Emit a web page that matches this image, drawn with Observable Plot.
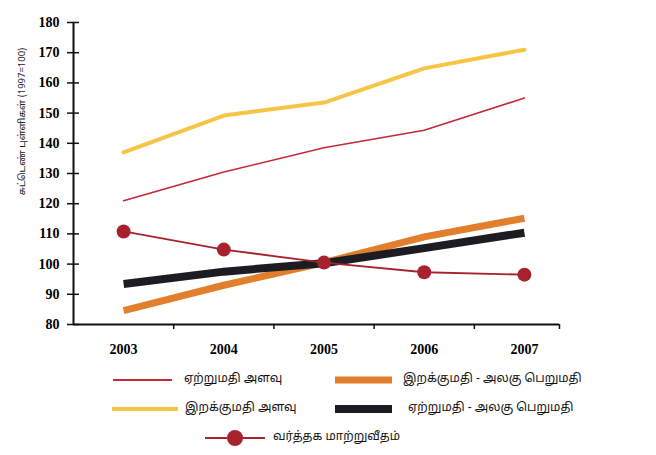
<!DOCTYPE html>
<html><head><meta charset="utf-8">
<script src="https://cdn.jsdelivr.net/npm/d3@7"></script>
<script src="https://cdn.jsdelivr.net/npm/@observablehq/plot@0.6"></script>
<style>
body{margin:0;background:#fff;}
#wrap{position:relative;width:656px;height:455px;overflow:hidden;font-family:"Noto Sans Tamil","Noto Sans","DejaVu Sans",sans-serif;}
.lg{position:absolute;font-size:12px;color:#111;white-space:nowrap;line-height:14px;}
.sw{position:absolute;}
</style></head>
<body><div id="wrap"><div id="chart"></div></div>
<script>
const years = [2003, 2004, 2005, 2006, 2007];
const exportVolume = [121, 130.5, 138.5, 144.3, 155];
const importVolume = [137, 149.2, 153.5, 164.8, 171];
const importUnitValue = [84.6, 93, 100.5, 109, 115.2];
const exportUnitValue = [93.4, 97.5, 100.3, 105.3, 110.4];
const termsOfTrade = [110.8, 104.8, 100.5, 97.3, 96.5];
const yTicks = [80, 90, 100, 110, 120, 130, 140, 150, 160, 170, 180];
const yLabel = "சுட்டெண் புள்ளிகள் (1997=100)";
const seriesNames = ["ஏற்றுமதி அளவு", "இறக்குமதி அளவு", "இறக்குமதி - அலகு பெறுமதி", "ஏற்றுமதி - அலகு பெறுமதி", "வர்த்தக மாற்றுவீதம்"];
const colors = ["#c4293a", "#f6c545", "#e27f2c", "#1c1c22", "#a8222e"];

const rows = (vals) => years.map((y, i) => ({year: y, v: vals[i]}));
const bounds = [2003.5, 2004.5, 2005.5, 2006.5, 2007.35];

const chart = Plot.plot({
  width: 656, height: 365,
  marginLeft: 73, marginRight: 97, marginTop: 22, marginBottom: 41,
  x: {type: "linear", domain: [2002.5, 2007.35]},
  y: {domain: [80, 180]},
  style: {fontFamily: "'Liberation Serif', 'Times New Roman', serif"},
  marks: [
    Plot.axisY({ticks: yTicks, tickSize: 6, tickPadding: 8, tickFormat: d => d, label: null,
      fontSize: 14, fontWeight: "bold", stroke: "#111", strokeWidth: 1.5}),
    Plot.axisY({ticks: yTicks, tickSize: -6, text: null, label: null, stroke: "#111", strokeWidth: 1.5}),
    Plot.axisX({ticks: bounds, tickSize: 5, text: null, label: null, stroke: "#111", strokeWidth: 1.5}),
    Plot.axisX({ticks: years, tickSize: 0, tickPadding: 20, tickFormat: d => String(d), label: null,
      fontSize: 14, fontWeight: "bold"}),
    Plot.ruleX([2002.5], {stroke: "#111", strokeWidth: 2}),
    Plot.ruleY([80], {stroke: "#111", strokeWidth: 2}),
    Plot.text([yLabel], {frameAnchor: "left", textAnchor: "middle", dx: -52, dy: -52, rotate: -90, text: d => d,
      fontSize: 9.5, fontFamily: "'Noto Sans Tamil','Noto Sans',sans-serif", fill: "#222"}),
    Plot.line(rows(importVolume), {x: "year", y: "v", stroke: colors[1], strokeWidth: 4}),
    Plot.line(rows(exportVolume), {x: "year", y: "v", stroke: colors[0], strokeWidth: 1.6}),
    Plot.line(rows(importUnitValue), {x: "year", y: "v", stroke: colors[2], strokeWidth: 7, strokeLinecap: "butt"}),
    Plot.line(rows(exportUnitValue), {x: "year", y: "v", stroke: colors[3], strokeWidth: 8, strokeLinecap: "butt"}),
    Plot.line(rows(termsOfTrade), {x: "year", y: "v", stroke: colors[4], strokeWidth: 1.8}),
    Plot.dot(rows(termsOfTrade), {x: "year", y: "v", r: 7, fill: colors[4], stroke: "none"})
  ]
});
document.getElementById("chart").appendChild(chart);

const wrap = document.getElementById("wrap");
const legend = [
  {name: 0, x1: 113, x2: 172, y: 380, w: 2, tx: 184, dot: false},
  {name: 2, x1: 335, x2: 392, y: 380, w: 7, tx: 403, dot: false},
  {name: 1, x1: 112, x2: 178, y: 409, w: 4, tx: 185, dot: false},
  {name: 3, x1: 335, x2: 392, y: 409, w: 8, tx: 408, dot: false},
  {name: 4, x1: 205, x2: 265, y: 438, w: 2, tx: 273, dot: true}
];
legend.forEach(e => {
  const s = document.createElementNS("http://www.w3.org/2000/svg", "svg");
  s.setAttribute("class", "sw");
  s.setAttribute("width", e.x2 - e.x1 + 2);
  s.setAttribute("height", 20);
  s.style.left = (e.x1 - 1) + "px";
  s.style.top = (e.y - 10) + "px";
  const c = colors[e.name];
  let html = `<line x1="1" x2="${e.x2 - e.x1 + 1}" y1="10" y2="10" stroke="${c}" stroke-width="${e.w}"/>`;
  if (e.dot) html += `<circle cx="${(e.x2 - e.x1) / 2 + 1}" cy="10" r="8" fill="${c}"/>`;
  s.innerHTML = html;
  wrap.appendChild(s);
  const t = document.createElement("div");
  t.className = "lg";
  t.textContent = seriesNames[e.name];
  t.style.left = e.tx + "px";
  t.style.top = (e.y - 8) + "px";
  wrap.appendChild(t);
});
</script></body></html>
